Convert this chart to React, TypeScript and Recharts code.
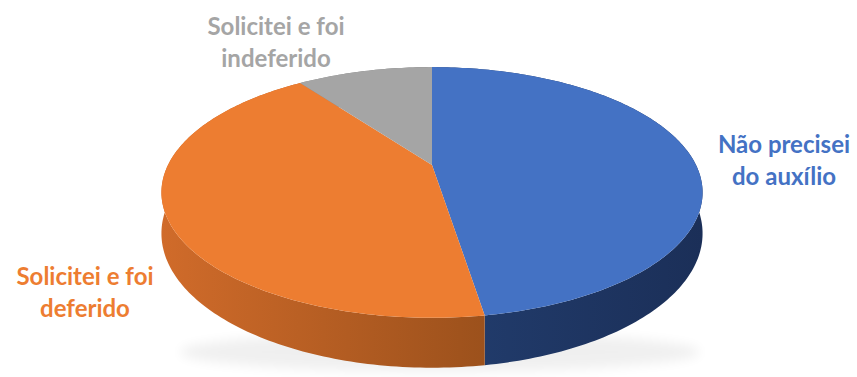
import React from 'react';
import { PieChart, Pie } from 'recharts';

const categories = ['Não precisei do auxílio', 'Solicitei e foi deferido', 'Solicitei e foi indeferido'];
const values = [47.5, 42.5, 10];
const labelLines = [
  ['Não precisei', 'do auxílio'],
  ['Solicitei e foi', 'deferido'],
  ['Solicitei e foi', 'indeferido'],
];

const topColors = ['#4472C4', '#ED7D31', '#A5A5A5'];
const wallLight = ['#223d6e', '#d06b2a', '#8c8c8c'];
const wallDark = ['#1b2f58', '#9c511c', '#6c6c6c'];
const labelColors = ['#4472C4', '#ED7D31', '#A5A5A5'];
const labelPos = [
  { x: 784, y: 143 },
  { x: 85, y: 275 },
  { x: 276, y: 25 },
];

const data = categories.map((name, i) => ({ name, value: values[i] }));

const CX = 432;
const CY = 165;
const R = 264;
const Y_RATIO = 0.452;
const PERSP = 0.219;
const DEPTH = 39;

function proj(cx: number, cy: number, r: number, deg: number, drop = 0): [number, number] {
  const a = (deg * Math.PI) / 180;
  const x = Math.cos(a);
  const z = -Math.sin(a);
  const w = 1 - PERSP * z;
  return [cx + (r * x) / w, cy + (r * Y_RATIO * z) / w + drop / w];
}

function arcPoints(cx: number, cy: number, r: number, s: number, e: number, drop = 0) {
  const n = Math.max(2, Math.ceil(Math.abs(e - s) / 1));
  const pts: [number, number][] = [];
  for (let i = 0; i <= n; i++) {
    const d = s + ((e - s) * i) / n;
    pts.push(proj(cx, cy, r, d, drop));
  }
  return pts;
}

const toPath = (pts: [number, number][]) =>
  pts.map((p, i) => `${i === 0 ? 'M' : 'L'}${p[0].toFixed(2)},${p[1].toFixed(2)}`).join(' ');

const renderWall = (props: any) => {
  const { cx, cy, outerRadius, startAngle, endAngle, index } = props;
  const top = arcPoints(cx, cy, outerRadius, startAngle, endAngle, 0);
  const bottom = arcPoints(cx, cy, outerRadius, startAngle, endAngle, DEPTH).reverse();
  const d = toPath([...top, ...bottom]) + ' Z';
  const xs = top.map((p) => p[0]);
  const x1 = Math.min(...xs);
  const x2 = Math.max(...xs);
  const gid = `wallGrad${index}`;
  return (
    <g key={`wall-${index}`}>
      <defs>
        <linearGradient id={gid} gradientUnits="userSpaceOnUse" x1={x1} y1={0} x2={x2} y2={0}>
          <stop offset="0%" stopColor={wallLight[index]} />
          <stop offset="100%" stopColor={wallDark[index]} />
        </linearGradient>
      </defs>
      <path d={d} fill={`url(#${gid})`} stroke="none" />
    </g>
  );
};

const renderTop = (props: any) => {
  const { cx, cy, outerRadius, startAngle, endAngle, index } = props;
  const rim = arcPoints(cx, cy, outerRadius, startAngle, endAngle, 0);
  const d = `M${cx},${cy} ` + toPath(rim).replace(/^M/, 'L') + ' Z';
  const lp = labelPos[index];
  return (
    <g key={`top-${index}`}>
      <path d={d} fill={topColors[index]} stroke="none" />
      <text
        x={lp.x}
        y={lp.y}
        textAnchor="middle"
        dominantBaseline="central"
        fill={labelColors[index]}
        fontFamily="Lato, 'Noto Sans', sans-serif"
        fontWeight="bold"
        fontSize={24}
      >
        <tspan x={lp.x} dy={0}>{labelLines[index][0]}</tspan>
        <tspan x={lp.x} dy={32}>{labelLines[index][1]}</tspan>
      </text>
    </g>
  );
};

export default function App() {
  return (
    <div style={{ position: 'absolute', left: 0, top: 0, width: 857, height: 377, background: '#fff' }}>
      <svg width={857} height={377} style={{ position: 'absolute', left: 0, top: 0 }}>
        <defs>
          <filter id="shadowBlur" x="-20%" y="-50%" width="140%" height="200%">
            <feGaussianBlur stdDeviation="6" />
          </filter>
        </defs>
        <ellipse cx={440} cy={352} rx={260} ry={20} fill="#000" opacity={0.06} filter="url(#shadowBlur)" />
      </svg>
      <div style={{ position: 'absolute', left: 0, top: 0 }}>
        <PieChart width={857} height={377} margin={{ top: 0, right: 0, bottom: 0, left: 0 }}>
          <Pie
            data={data}
            dataKey="value"
            nameKey="name"
            cx={CX}
            cy={CY}
            outerRadius={R}
            startAngle={90}
            endAngle={-270}
            fill="none"
            stroke="none"
            isAnimationActive={false}
            label={renderWall}
            labelLine={false}
          />
          <Pie
            data={data}
            dataKey="value"
            nameKey="name"
            cx={CX}
            cy={CY}
            outerRadius={R}
            startAngle={90}
            endAngle={-270}
            fill="none"
            stroke="none"
            isAnimationActive={false}
            label={renderTop}
            labelLine={false}
          />
        </PieChart>
      </div>
    </div>
  );
}
